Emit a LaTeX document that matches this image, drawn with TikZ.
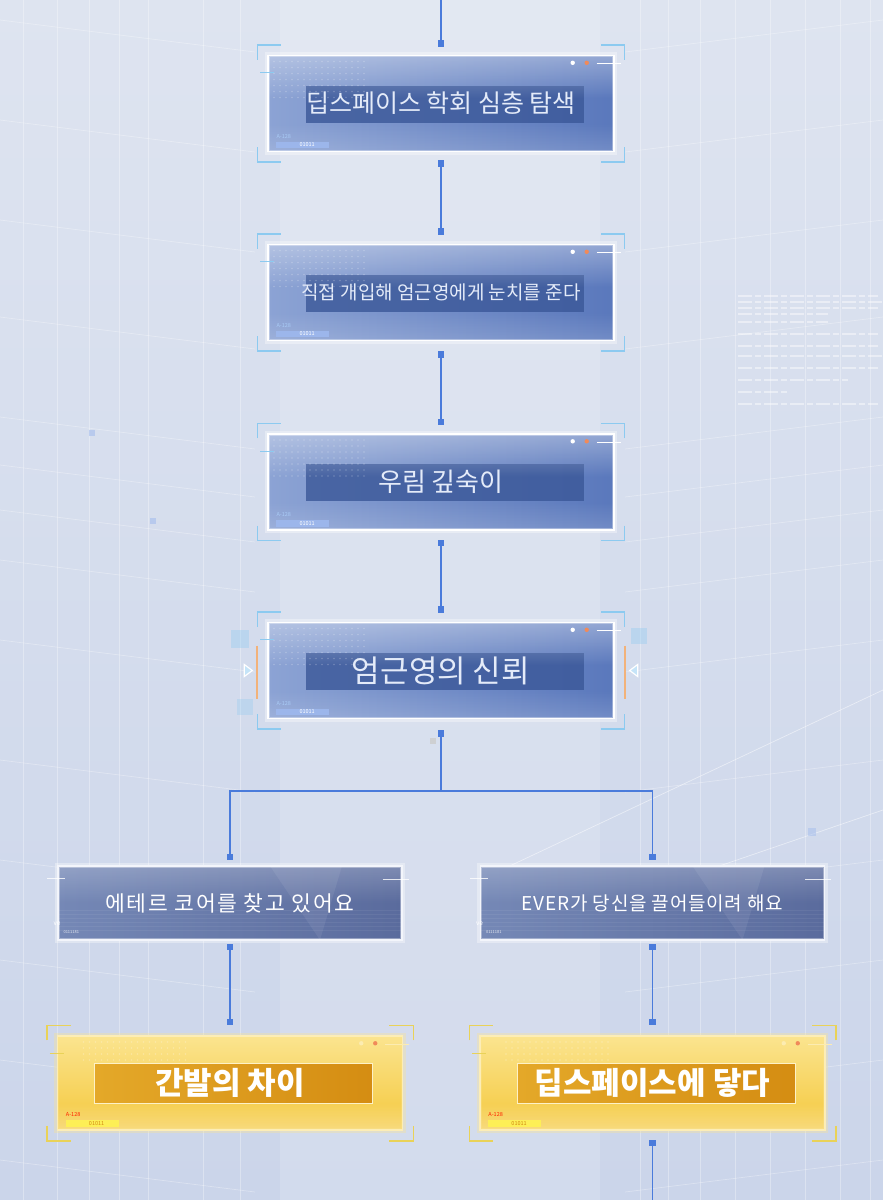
\documentclass[tikz,border=0pt]{standalone}
\usepackage{fontspec}
\setmainfont{Noto Sans CJK KR}
\usetikzlibrary{arrows.meta,calc,fadings}

\definecolor{bgtop}{HTML}{DEE4F0}
\definecolor{bgbot}{HTML}{CBD5EA}
\definecolor{boxA}{HTML}{8CA3D4}
\definecolor{boxB}{HTML}{5A78BC}
\definecolor{band}{HTML}{3A5798}
\definecolor{optA}{HTML}{7588B6}
\definecolor{optB}{HTML}{5A6B9D}
\definecolor{goldA}{HTML}{FBE48F}
\definecolor{goldB}{HTML}{F4C83C}
\definecolor{goldbandA}{HTML}{E6AC2C}
\definecolor{goldbandB}{HTML}{D38A10}
\definecolor{connc}{HTML}{4A7BDB}
\definecolor{brk}{HTML}{8CCAF0}
\definecolor{brkgold}{HTML}{E9D258}
\definecolor{txtc}{HTML}{E4EBF9}
\definecolor{labc}{HTML}{A9CBF6}
\definecolor{dotor}{HTML}{F08A5A}
\definecolor{sidebar}{HTML}{F2B27A}

\newcommand\cornermarks[2]{%
  \draw[#2, line width=1.5pt]
    ([shift={(-10pt,-5pt)}]#1.north west) -- ([shift={(-10pt,10pt)}]#1.north west) -- ([shift={(14pt,10pt)}]#1.north west)
    ([shift={(10pt,-5pt)}]#1.north east) -- ([shift={(10pt,10pt)}]#1.north east) -- ([shift={(-14pt,10pt)}]#1.north east)
    ([shift={(-10pt,5pt)}]#1.south west) -- ([shift={(-10pt,-10pt)}]#1.south west) -- ([shift={(14pt,-10pt)}]#1.south west)
    ([shift={(10pt,5pt)}]#1.south east) -- ([shift={(10pt,-10pt)}]#1.south east) -- ([shift={(-14pt,-10pt)}]#1.south east);
  \draw[#2, line width=1.2pt] ([shift={(-7pt,-18pt)}]#1.north west) -- ([shift={(7pt,-18pt)}]#1.north west);
}
\newcommand\boxdots[3]{%
  \fill[#2] ([shift={(-42pt,-8pt)}]#1.north east) circle (2.2pt);
  \fill[#3] ([shift={(-28pt,-8pt)}]#1.north east) circle (2.2pt);
  \draw[#2, line width=0.9pt] ([shift={(-18pt,-9pt)}]#1.north east) -- ([shift={(6pt,-9pt)}]#1.north east);
}
\newcommand\boxlabels[4]{%
  \node[tinylab, text=#2] (#1-a) at ([shift={(9pt,16pt)}]#1.south west) {A-128};
  \fill[#3] ([shift={(9pt,4pt)}]#1.south west) rectangle ([shift={(62pt,10.5pt)}]#1.south west);
  \node[tinylab, text=#4] (#1-b) at ([shift={(32pt,7.2pt)}]#1.south west) {01011};
}
\newcommand\glowrect[2]{%
  \draw[#2, opacity=0.35, line width=5pt] (#1.north west) rectangle (#1.south east);
}

\begin{document}
\begin{tikzpicture}[x=1pt,y=-1pt,
  >={Square[length=6.5pt,width=6.5pt]},
  conn/.style={draw=connc, line width=1.2pt},
  dotfield/.style={fill=white, opacity=0.22},
  mainbox/.style={minimum width=346pt, minimum height=96pt, inner sep=0pt,
    draw=white, line width=1.4pt, left color=boxA, right color=boxB, text=txtc,
    path picture={
      \fill[band, opacity=0.8] ($(path picture bounding box.north west)+(38pt,-30pt)$) rectangle ($(path picture bounding box.south east)+(-30pt,29pt)$);
      \fill[white, opacity=0.35, path fading=south] (path picture bounding box.north west) rectangle ($(path picture bounding box.east)+(0pt,5pt)$);
      \fill[white, opacity=0.15, path fading=north] ($(path picture bounding box.west)+(0pt,-20pt)$) rectangle (path picture bounding box.south east);
      \foreach \dx in {6,12,...,96} \foreach \dy in {6,12,...,42}
        \fill[dotfield] ($(path picture bounding box.north west)+(\dx pt,-\dy pt)$) circle (0.8pt);
    }},
  optbox/.style={minimum width=344pt, minimum height=74pt, inner sep=0pt,
    draw=white!85!boxA, line width=1.3pt, left color=optA, right color=optB, text=white,
    path picture={
      \fill[white, opacity=0.07] ($(path picture bounding box.north)+(40pt,0pt)$) -- ($(path picture bounding box.north east)+(-60pt,0pt)$) -- ($(path picture bounding box.south)+(90pt,0pt)$) -- cycle;
      \fill[white, opacity=0.22, path fading=south] (path picture bounding box.north west) rectangle ($(path picture bounding box.east)$);
      \foreach \ly in {10,14,...,30}
        \draw[white, opacity=0.06, line width=0.5pt] ($(path picture bounding box.south west)+(0pt,\ly pt)$) -- ($(path picture bounding box.south east)+(0pt,\ly pt)$);
    }},
  goldbox/.style={minimum width=345pt, minimum height=94pt, inner sep=0pt,
    draw=white!55!goldA, line width=1.5pt, top color=goldA, bottom color=goldB, text=white,
    path picture={
      \draw[white!50!goldA, line width=1pt, left color=goldbandA, right color=goldbandB] ($(path picture bounding box.north west)+(37pt,-27pt)$) rectangle ($(path picture bounding box.south east)+(-30pt,27pt)$);
      \fill[white, opacity=0.35, path fading=north] ($(path picture bounding box.west)+(0pt,-20pt)$) rectangle (path picture bounding box.south east);
      \foreach \dx in {6,12,...,110} \foreach \dy in {6,12,...,24}
        \fill[white, opacity=0.25] ($(path picture bounding box.north west)+(\dx pt+20pt,-\dy pt)$) circle (0.8pt);
    }},
  tinylab/.style={anchor=west, inner sep=0pt, font=\fontsize{5.5}{6}\selectfont},
  gridline/.style={white, opacity=0.32, line width=0.7pt}
]
\useasboundingbox (0,0) rectangle (883,1200);
\shade[top color=bgtop, bottom color=bgbot] (0,0) rectangle (883,1200);
\fill[white, opacity=0.15] (280,0) rectangle (600,1200);

% background grid (perspective)
\foreach \gx in {23,57,89,119,148,203,240}
  \draw[gridline] (\gx,0) -- (\gx,1200);
\foreach \gx in {640,668,700,735,770,805,840,870}
  \draw[gridline] (\gx,0) -- (\gx,1200);
\foreach \gy in {20,120,220,317,417,465,510,560,640,760,860,960,1060,1160}{
  \draw[gridline] (0,\gy) -- (255,\gy+32);
  \draw[gridline] (625,\gy+32) -- (883,\gy);
}
\draw[gridline, opacity=0.5] (480,880) -- (883,690);
\draw[gridline, opacity=0.5] (620,900) -- (883,810);
% faint text block right
\foreach \ty/\tl in {296/140,302/145,308/140,314/90,322/90,334/140,346/140,356/145,368/140,380/110,392/50,404/140}
  \draw[white, opacity=0.45, line width=1.3pt, dash pattern=on 14pt off 3pt on 6pt off 3pt] (738,\ty) -- ++(\tl,0);
% scattered small squares
\fill[connc!50!white, opacity=0.6] (89,430) rectangle ++(6,6);
\fill[connc!50!white, opacity=0.6] (150,518) rectangle ++(6,6);
\fill[connc!50!white, opacity=0.5] (808,828) rectangle ++(8,8);
\fill[gray!40, opacity=0.8] (430,738) rectangle ++(6,6);

% main boxes
\node[mainbox, font=\fontsize{25}{28}\selectfont] (b1) at (441,103.5) {딥스페이스 학회 심층 탐색};
\node[mainbox, font=\fontsize{19}{22}\selectfont] (b2) at (441,292.5) {직접 개입해 엄근영에게 눈치를 준다};
\node[mainbox, font=\fontsize{26}{30}\selectfont] (b3) at (441,482) {우림 깊숙이};
\node[mainbox, font=\fontsize{31}{34}\selectfont] (b4) at (441,670.5) {엄근영의 신뢰};

\foreach \n in {b1,b2,b3,b4}{
  \glowrect{\n}{white}
  \cornermarks{\n}{brk}
  \boxdots{\n}{white}{dotor}
  \boxlabels{\n}{labc}{connc!55!white}{white}
}

% side marks on b4
\draw[sidebar, line width=1.8pt] ([xshift=-10pt,yshift=25pt]b4.west) -- ([xshift=-10pt,yshift=-28pt]b4.west);
\draw[sidebar, line width=1.8pt] ([xshift=10pt,yshift=25pt]b4.east) -- ([xshift=10pt,yshift=-28pt]b4.east);
\draw[white, line width=1.2pt, fill=brk!50] ([xshift=-23pt,yshift=6pt]b4.west) -- ([xshift=-15pt,yshift=0pt]b4.west) -- ([xshift=-23pt,yshift=-6pt]b4.west) -- cycle;
\draw[white, line width=1.2pt, fill=brk!50] ([xshift=23pt,yshift=6pt]b4.east) -- ([xshift=15pt,yshift=0pt]b4.east) -- ([xshift=23pt,yshift=-6pt]b4.east) -- cycle;
\fill[brk, opacity=0.35] ([shift={(-36pt,-8pt)}]b4.north west) rectangle ([shift={(-18pt,-26pt)}]b4.north west);
\fill[brk, opacity=0.3] ([shift={(-30pt,20pt)}]b4.south west) rectangle ([shift={(-14pt,4pt)}]b4.south west);
\fill[brk, opacity=0.35] ([shift={(16pt,-6pt)}]b4.north east) rectangle ([shift={(32pt,-22pt)}]b4.north east);

% option boxes
\node[optbox, font=\fontsize{21.5}{24}\selectfont\addfontfeature{LetterSpace=8}] (o1) at (230,903) {에테르 코어를 찾고 있어요};
\node[optbox, font=\fontsize{19}{22}\selectfont\addfontfeature{LetterSpace=4}] (o2) at (652.5,903) {EVER가 당신을 끌어들이려 해요};
\foreach \n in {o1,o2}{
  \glowrect{\n}{white}
  \draw[white, opacity=0.8, line width=0.9pt] ([shift={(-10pt,-13pt)}]\n.north west) -- ([shift={(8pt,-13pt)}]\n.north west);
  \draw[white, opacity=0.8, line width=0.9pt] ([shift={(-20pt,-14pt)}]\n.north east) -- ([shift={(6pt,-14pt)}]\n.north east);
  \node[tinylab, text=white, font=\fontsize{6.5}{7}\selectfont] (\n-a) at ([shift={(-4pt,17pt)}]\n.south west) {ve};
  \node[tinylab, text=white, opacity=0.8, font=\fontsize{4}{5}\selectfont] (\n-b) at ([shift={(6pt,9pt)}]\n.south west) {0111181};
}

% gold boxes
\node[goldbox, font=\fontsize{31}{34}\selectfont\bfseries] (g1) at (230,1083) {간발의 차이};
\node[goldbox, font=\fontsize{31}{34}\selectfont\bfseries] (g2) at (652.5,1083) {딥스페이스에 닿다};
\foreach \n in {g1,g2}{
  \glowrect{\n}{goldA}
  \cornermarks{\n}{brkgold}
  \boxdots{\n}{white!30!goldA}{dotor}
  \boxlabels{\n}{red!75!orange}{goldA!60!yellow}{goldbandB}
}

% connectors
\coordinate (top) at (441,0);
\coordinate (bottom) at (652.5,1200);
\coordinate (split) at (441,791);
\draw[conn, ->] (top) -- ([yshift=8pt]b1.north);
\draw[conn, <->] ([yshift=-8pt]b1.south) -- ([yshift=9pt]b2.north);
\draw[conn, <->] ([yshift=-10pt]b2.south) -- ([yshift=8pt]b3.north);
\draw[conn, <->] ([yshift=-9pt]b3.south) -- ([yshift=9pt]b4.north);
\draw[conn, <->] ([yshift=-11pt]b4.south) -- (split) -| ([yshift=5pt]o1.north);
\draw[conn, ->] (split) -| ([yshift=5pt]o2.north);
\draw[conn, <->] ([yshift=-3pt]o1.south) -- ([yshift=10pt]g1.north);
\draw[conn, <->] ([yshift=-3pt]o2.south) -- ([yshift=10pt]g2.north);
\draw[conn, <-] ([yshift=-9pt]g2.south) -- (bottom);
\end{tikzpicture}
\end{document}
